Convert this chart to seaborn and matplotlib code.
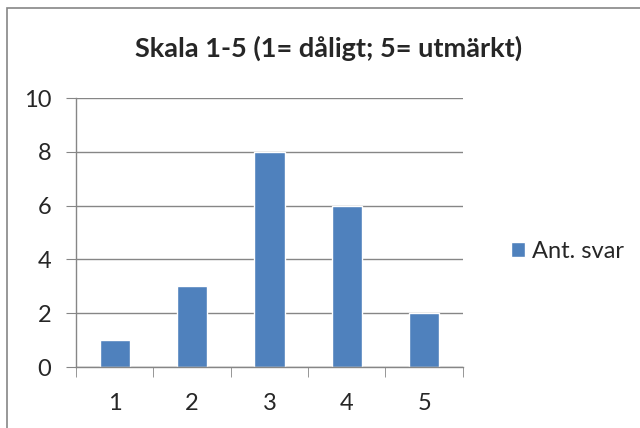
import pandas as pd
import numpy as np
import seaborn as sns
import matplotlib.pyplot as plt
from matplotlib.patches import Rectangle

# Data
skala = ['1', '2', '3', '4', '5']
ant_svar = [1, 3, 8, 6, 2]
y_ticks = [0, 2, 4, 6, 8, 10]

df = pd.DataFrame({'skala': skala, 'svar': ant_svar})

sns.set_style('white')
plt.rcParams['font.family'] = ['Lato', 'DejaVu Sans']

fig = plt.figure(figsize=(6.4, 4.28), dpi=100)
ax = fig.add_axes([0.119, 0.1425, 0.604, 0.6285])

sns.barplot(data=df, x='skala', y='svar', color='#4F81BD', width=0.39,
            saturation=1, ax=ax, label='Ant. svar')

ax.set_xlim(-0.5, 4.5)
ax.set_ylim(0, 10)
ax.set_yticks(y_ticks)
ax.yaxis.grid(True, color='#868686', linewidth=1)
ax.set_axisbelow(True)
ax.set_xlabel('')
ax.set_ylabel('')

for s in ['top', 'right']:
    ax.spines[s].set_visible(False)
for s in ['left', 'bottom']:
    ax.spines[s].set_color('#868686')
    ax.spines[s].set_linewidth(1)

ax.tick_params(axis='y', length=7, color='#868686', labelsize=17, pad=11, direction='out', left=True)
ax.tick_params(axis='x', which='major', length=0, labelsize=17, pad=19)
ax.set_xticks(np.arange(-0.5, 5, 1), minor=True)
ax.tick_params(axis='x', which='minor', length=7, color='#868686', direction='out', bottom=True)

fig.text(0.514, 0.886, 'Skala 1-5 (1= dåligt; 5= utmärkt)', ha='center', va='center',
         fontsize=19.5, fontweight='bold')

ax.legend(loc='center left', bbox_to_anchor=(1.07, 0.43), frameon=False,
          fontsize=17, handlelength=0.6, handleheight=0.6, handletextpad=0.3)

# chart frame (only top and left edges fall inside the image)
fig.patches.append(Rectangle((7 / 640, -10 / 428), 650 / 640, 430 / 428, transform=fig.transFigure,
                             fill=False, edgecolor='#868686', linewidth=1.2))

fig.savefig('out.png', dpi=100)
